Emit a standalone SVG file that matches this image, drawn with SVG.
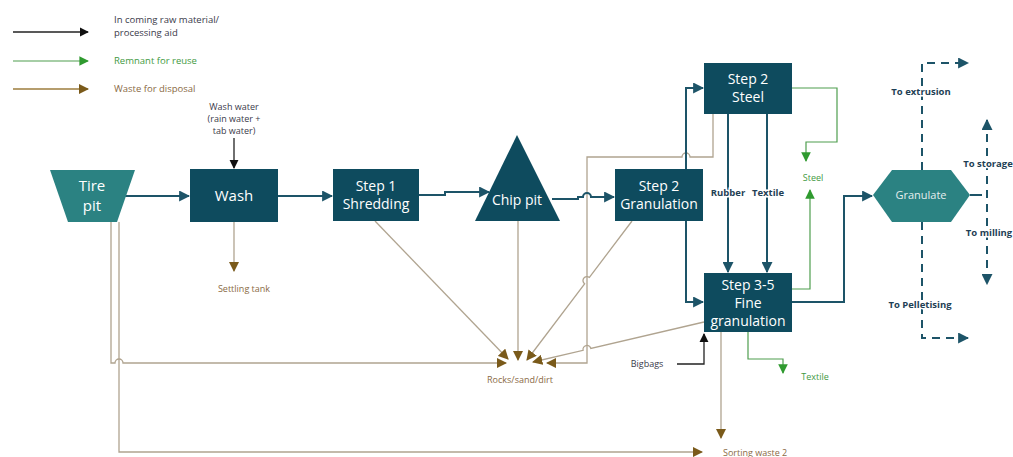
<svg xmlns="http://www.w3.org/2000/svg" width="1013" height="457" viewBox="0 0 1013 457">
<style>
.box{fill:#0e4b5e}
.teal{fill:#2b8282}
.bt{font-family:"Open Sans","Noto Sans",sans-serif;font-size:14px;fill:#ffffff;text-anchor:middle}
.lbl{font-family:"Open Sans","Noto Sans",sans-serif;font-size:9px}
.lg{font-size:9.5px}
.dk{fill:#3a3a4a}
.gr{fill:#3f9a3f}
.br{fill:#8a6a45}
.bold{font-family:"Open Sans","Noto Sans",sans-serif;font-size:9.5px;font-weight:bold;fill:#1f3f55;stroke:#ffffff;stroke-width:3;paint-order:stroke;text-anchor:middle}
.nv{fill:none;stroke:#1d5468;stroke-width:2}
.bk{fill:none;stroke:#222222;stroke-width:1.3}
.gn{fill:none;stroke:#4f9e4f;stroke-width:1.2}
.bn{fill:none;stroke:#b0a490;stroke-width:1.3}
.bn2{fill:none;stroke:#9c7c3c;stroke-width:1.3}
.ds{fill:none;stroke:#1d5468;stroke-width:2;stroke-dasharray:8,6}
</style>
<defs>
<marker id="mNv" viewBox="0 0 10 10" refX="9" refY="5" markerWidth="5.5" markerHeight="5.5" orient="auto-start-reverse" markerUnits="strokeWidth"><path d="M0,0 L10,5 L0,10 z" fill="#1d5468"/></marker>
<marker id="mBk" viewBox="0 0 10 10" refX="9" refY="5" markerWidth="7" markerHeight="7" orient="auto" markerUnits="strokeWidth"><path d="M0,0 L10,5 L0,10 z" fill="#111111"/></marker>
<marker id="mGn" viewBox="0 0 10 10" refX="9" refY="5" markerWidth="8" markerHeight="8" orient="auto" markerUnits="strokeWidth"><path d="M0,0 L10,5 L0,10 z" fill="#2f9a2f"/></marker>
<marker id="mBn" viewBox="0 0 10 10" refX="9" refY="5" markerWidth="8" markerHeight="8" orient="auto" markerUnits="strokeWidth"><path d="M0,0 L10,5 L0,10 z" fill="#7a5a1a"/></marker>
</defs>
<rect width="1013" height="457" fill="#ffffff"/>

<g id="legend">
<path class="bk" d="M13,32 H88" marker-end="url(#mBk)"/>
<path class="gn" d="M13,61 H88" marker-end="url(#mGn)"/>
<path class="bn2" d="M13,89 H88" marker-end="url(#mBn)"/>
<text class="lbl lg dk" x="114" y="23">In coming raw material/</text>
<text class="lbl lg dk" x="114" y="36">processing aid</text>
<text class="lbl lg gr" x="114" y="64">Remnant for reuse</text>
<text class="lbl lg br" x="114" y="92">Waste for disposal</text>
</g>

<g id="connectors">
<!-- waste (brown) -->
<path class="bn" d="M234,222 V271" marker-end="url(#mBn)"/>
<path class="bn" d="M375,221 L508,359" marker-end="url(#mBn)"/>
<path class="bn" d="M518,221 V360" marker-end="url(#mBn)"/>
<path class="bn" d="M632,221 L589.4,277.4 A4,4 0 0 0 584.6,283.8 L527,360" marker-end="url(#mBn)"/>
<path class="bn" d="M704,322 L590.9,348.5 A4,4 0 0 0 583.1,350.3 L533,362" marker-end="url(#mBn)"/>
<path class="bn" d="M713,114 V157 H690 A4,4 0 0 0 682,157 H587 V363 H547" marker-end="url(#mBn)"/>
<path class="bn" d="M111,222 V363 H115 A4,4 0 0 1 123,363 H506" marker-end="url(#mBn)"/>
<path class="bn" d="M119,222 V452 H702" marker-end="url(#mBn)"/>
<path class="bn" d="M721,332 V438" marker-end="url(#mBn)"/>
<!-- reuse (green) -->
<path class="gn" d="M792,88 H837 V142 H806 V161" marker-end="url(#mGn)"/>
<path class="gn" d="M792,289 H810 V190" marker-end="url(#mGn)"/>
<path class="gn" d="M748,332 V359 H783 V373" marker-end="url(#mGn)"/>
<!-- process (navy) -->
<path class="nv" d="M125,196 H189" marker-end="url(#mNv)"/>
<path class="nv" d="M278,196 H332" marker-end="url(#mNv)"/>
<path class="nv" d="M419,195 H445 V192 H489" marker-end="url(#mNv)"/>
<path class="nv" d="M552,199 H578 V197 H583 A4,4 0 0 1 591,197 H614" marker-end="url(#mNv)"/>
<path class="nv" d="M686,169 V88 H703" marker-end="url(#mNv)"/>
<path class="nv" d="M728,114 V272" marker-end="url(#mNv)"/>
<path class="nv" d="M767,114 V272" marker-end="url(#mNv)"/>
<path class="nv" d="M686,221 V302 H703" marker-end="url(#mNv)"/>
<path class="nv" d="M792,302 H844 V196 H872" marker-end="url(#mNv)"/>
<!-- incoming (black) -->
<path class="bk" d="M234,138 V168" marker-end="url(#mBk)"/>
<path class="bk" d="M677,364 H704 V334" marker-end="url(#mBk)"/>
<!-- granulate outputs (dashed) -->
<path class="ds" d="M922,170 V63 H968" marker-end="url(#mNv)"/>
<path class="ds" d="M922,222 V338 H968" marker-end="url(#mNv)"/>
<path class="nv" d="M970,195 H982"/>
<path class="ds" d="M987,120 V284" marker-start="url(#mNv)" marker-end="url(#mNv)"/>
</g>

<g id="labels">
<text class="lbl dk" x="234" y="110" text-anchor="middle">Wash water</text>
<text class="lbl dk" x="234" y="122" text-anchor="middle">(rain water +</text>
<text class="lbl dk" x="234" y="134" text-anchor="middle">tab water)</text>
<text class="lbl br" x="244" y="292" text-anchor="middle">Settling tank</text>
<text class="lbl br" x="520" y="383" text-anchor="middle">Rocks/sand/dirt</text>
<text class="lbl br" x="723" y="456">Sorting waste 2</text>
<text class="lbl gr" x="813" y="181" text-anchor="middle">Steel</text>
<text class="lbl gr" x="815" y="380" text-anchor="middle">Textile</text>
<text class="lbl dk" x="647" y="367" text-anchor="middle">Bigbags</text>
<text class="bold" x="728" y="196">Rubber</text>
<text class="bold" x="768" y="196">Textile</text>
<text class="bold" x="921" y="95">To extrusion</text>
<text class="bold" x="920" y="308">To Pelletising</text>
<text class="bold" x="988" y="167">To storage</text>
<text class="bold" x="989" y="236">To milling</text>
</g>

<g id="tire-pit">
<polygon class="teal" points="50,170 135,170 117,222 68,222"/>
<text class="bt" x="92" y="191" style="font-size:15px">Tire</text>
<text class="bt" x="92" y="211" style="font-size:15px">pit</text>
</g>
<g id="wash">
<rect class="box" x="190" y="169" width="88" height="53"/>
<text class="bt" x="234" y="201" style="font-size:15px">Wash</text>
</g>
<g id="step1-shredding">
<rect class="box" x="333" y="169" width="86" height="52"/>
<text class="bt" x="376" y="191">Step 1</text>
<text class="bt" x="376" y="209">Shredding</text>
</g>
<g id="chip-pit">
<polygon class="box" points="517,135 560,221 475,221"/>
<text class="bt" x="517" y="205">Chip pit</text>
</g>
<g id="step2-granulation">
<rect class="box" x="615" y="169" width="88" height="52"/>
<text class="bt" x="659" y="191">Step 2</text>
<text class="bt" x="659" y="209">Granulation</text>
</g>
<g id="step2-steel">
<rect class="box" x="704" y="63" width="88" height="51"/>
<text class="bt" x="748" y="84">Step 2</text>
<text class="bt" x="748" y="102">Steel</text>
</g>
<g id="step3-5-fine-granulation">
<rect class="box" x="704" y="273" width="88" height="59"/>
<text class="bt" x="748" y="290">Step 3-5</text>
<text class="bt" x="748" y="308">Fine</text>
<text class="bt" x="748" y="326">granulation</text>
</g>
<g id="granulate">
<polygon class="teal" points="873,195 892,170 951,170 970,195 951,222 892,222"/>
<text class="bt" x="921" y="199" style="font-size:11px;fill:#e4eeee">Granulate</text>
</g>
</svg>
